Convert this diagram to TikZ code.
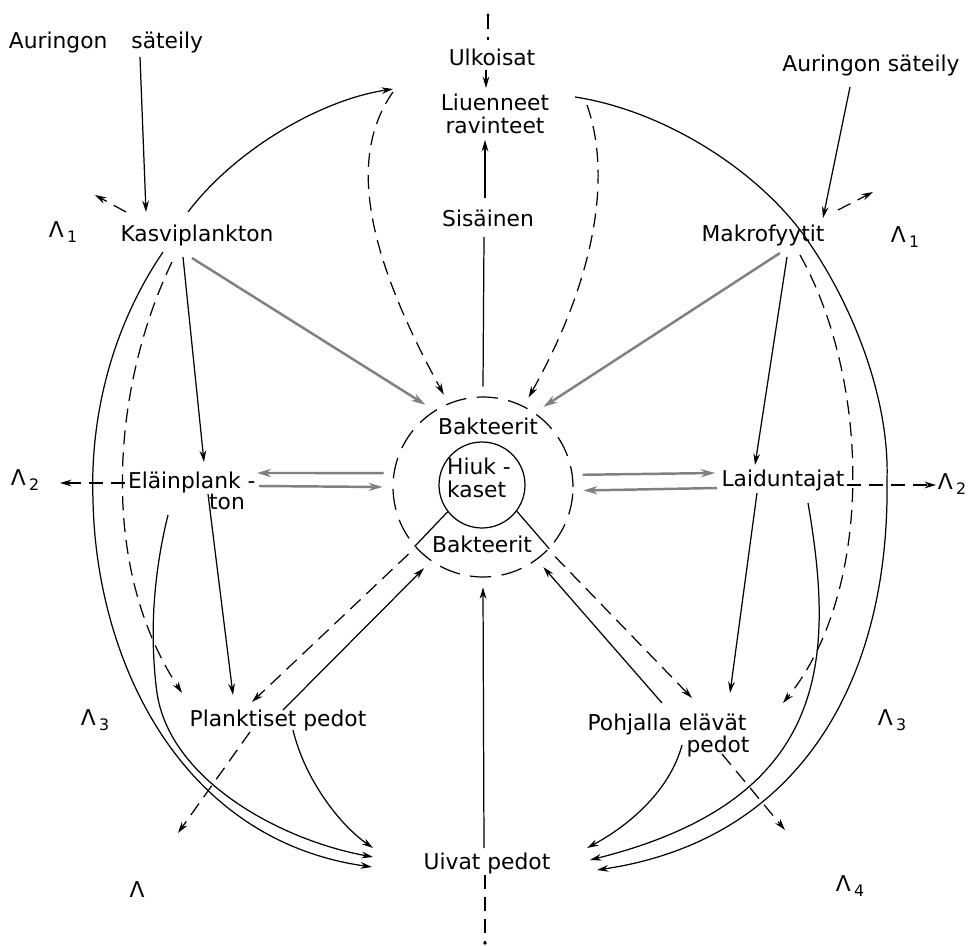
\documentclass[tikz,border=0pt]{standalone}
\usepackage{fontspec}
\setmainfont{DejaVu Sans}
\usetikzlibrary{arrows.meta,calc}
\newcommand\lam[1]{Λ\hspace{0.15em}\raisebox{-0.45ex}{\fontsize{9}{10}\selectfont #1}}
\begin{document}
\begin{tikzpicture}[x=0.02cm,y=-0.02cm,
 lbl/.style={font=\fontsize{12.4}{13}\selectfont, inner sep=0pt, outer sep=0pt},
 con/.style={line width=0.7pt},
 arr/.style={con,-{Stealth[length=6.5pt,width=3.8pt]}},
 dsh/.style={dash pattern=on 8pt off 4.5pt},
 ringdash/.style={dash pattern=on 12pt off 6pt},
 grarr/.style={line width=1.4pt,draw=black!50,-{Stealth[length=8pt,width=4.6pt]}}]
\useasboundingbox (0,0) rectangle (971,946);
% ---------- text nodes ----------
\node[lbl] (sunL) at (106,42) {Auringon\hspace{1.1em}säteily};
\node[lbl] (sunR) at (871,65) {Auringon säteily};
\node[lbl] (ulk) at (492,57) {Ulkoisat};
\node[lbl,align=center] (liu) at (495,114) {Liuenneet\\ravinteet};
\node[lbl] (sis) at (488,218) {Sisäinen};
\node[lbl] (kasvi) at (197,235) {Kasviplankton};
\node[lbl] (makro) at (763,235) {Makrofyytit};
\node[lbl,anchor=west] (elain) at (128,482) {Eläinplank -};
\node[lbl] (elain2) at (227,502) {ton};
\node[lbl] (laid) at (783,480) {Laiduntajat};
\node[lbl] (plank) at (278,720) {Planktiset pedot};
\node[lbl] (pohj) at (667,724) {Pohjalla elävät};
\node[lbl] (pohjb) at (718,746) {pedot};
\node[lbl] (uiv) at (487,863) {Uivat pedot};
\node[lbl] (L1l) at (63,232) {\lam{1}};
\node[lbl] (L1r) at (905,237) {\lam{1}};
\node[lbl] (L2l) at (25,480) {\lam{2}};
\node[lbl] (L2r) at (952,484) {\lam{2}};
\node[lbl] (L3l) at (95,720) {\lam{3}};
\node[lbl] (L3r) at (892,720) {\lam{3}};
\node[lbl] (L4l) at (137,890) {Λ};
\node[lbl] (L4r) at (850,886) {\lam{4}};
% ---------- central circles ----------
\node[circle,minimum size=4cm,inner sep=0pt] (ring) at (483,487) {};
\node[circle,draw,con,ringdash,minimum size=3.6cm,inner sep=0pt] (bak) at (483,487) {};
\node[circle,draw,con,minimum size=1.72cm,inner sep=0pt] (hk) at (482,485) {};
\node[lbl,align=left] (hiuk) at (479,478) {Hiuk -\\kaset};
\node[lbl] (bakT) at (488,426) {Bakteerit};
\node[lbl] (bakB) at (482,544) {Bakteerit};
\draw[con] (hk.218) -- (bak.221);
\draw[con] (hk.-37) -- (bak.-43);
% ---------- top ----------
\coordinate (topdot) at (488,15);
\draw[con,dsh] (topdot) -- ($(ulk)+(-4,-17)$);
\fill (topdot) circle[radius=1.6];
\draw[arr] ($(ulk)+(-6,13)$) -- ($(liu)+(-9,-26)$);
\draw[arr] ($(sis)+(-3,-20)$) -- ($(liu)+(-10,26)$);
\draw[con] (ring.90) -- ($(sis)+(-4,19)$);
\draw[arr,dsh] ($(liu)+(-102,-22)$) .. controls (345,160) and (370,260) .. (ring.113);
\draw[arr,dsh] ($(liu)+(92,-9)$) .. controls (610,170) and (600,270) .. (ring.63);
% ---------- Kasviplankton ----------
\draw[arr] ($(sunL)+(34,15)$) -- ($(kasvi)+(-51,-23)$);
\draw[arr,dsh] ($(kasvi)+(-71,-23)$) -- ($(kasvi)+(-102,-40)$);
\draw[arr] ($(kasvi)+(-9,-23)$) .. controls (235,150) and (320,100) .. ($(liu)+(-102,-25)$);
\draw[grarr] ($(kasvi)+(-5,23)$) -- (ring.125);
\draw[arr] ($(kasvi)+(-14,22)$) -- ($(elain.west)+(76,-20)$);
\draw[arr,dsh] ($(kasvi)+(-25,27)$) .. controls (115,380) and (95,560) .. ($(plank)+(-96,-27)$);
\draw[arr] ($(kasvi)+(-34,17)$) .. controls (110,330) and (90,420) .. (93,500)
  .. controls (96,660) and (180,840) .. ($(uiv)+(-115,4)$);
% ---------- Elainplankton ----------
\draw[arr,dsh] ($(elain.west)+(-3,1)$) -- ($(L2l)+(35,3)$);
\draw[arr] ($(elain.west)+(80,12)$) -- ($(plank)+(-45,-25)$);
\draw[arr] ($(elain.west)+(40,33)$) .. controls (152,580) and (150,640) .. (157,693)
  .. controls (170,780) and (280,840) .. ($(uiv)+(-114,-6)$);
\draw[grarr] (ring.172.6) -- ($(elain.west)+(129,-9)$);
\draw[grarr] ($(elain.west)+(131,4)$) -- (ring.180);
% ---------- Planktiset pedot ----------
\draw[arr,dsh] (ring.222) -- ($(plank)+(-26,-18)$);
\draw[arr] ($(plank)+(5,-10)$) -- (ring.234);
\draw[arr,dsh] ($(plank)+(-28,12)$) -- ($(plank)+(-100,113)$);
\draw[arr] ($(plank)+(15,10)$) .. controls (305,780) and (340,825) .. ($(uiv)+(-114,-15)$);
% ---------- Makrofyytit ----------
\draw[arr] ($(sunR)+(-21,22)$) -- ($(makro)+(60,-17)$);
\draw[arr,dsh] ($(makro)+(75,-25)$) -- ($(makro)+(110,-43)$);
\draw[arr] ($(liu)+(80,-17)$) .. controls (660,110) and (750,165) .. (800,230)
  .. controls (845,290) and (890,390) .. (887,480)
  .. controls (890,680) and (800,840) .. ($(uiv)+(110,7)$);
\draw[grarr] ($(makro)+(17,18)$) -- (ring.53);
\draw[arr] ($(makro)+(24,22)$) -- ($(laid)+(-28,-15)$);
\draw[arr,dsh] ($(makro)+(37,20)$) .. controls (870,380) and (875,590) .. ($(pohj)+(116,-21)$);
% ---------- Laiduntajat ----------
\draw[arr] ($(laid)+(-26,13)$) -- ($(pohj)+(63,-31)$);
\draw[arr] ($(laid)+(25,23)$) .. controls (835,660) and (830,800) .. ($(uiv)+(103,-3)$);
\draw[arr,dsh] ($(laid)+(64,5)$) -- ($(L2r)+(-16,1)$);
\draw[grarr] (ring.7) -- ($(laid)+(-68,-7)$);
\draw[grarr] ($(laid)+(-66,8)$) -- (ring.-2);
% ---------- Pohjalla elavat pedot ----------
\draw[arr,dsh] (ring.-44) -- ($(pohj)+(25,-26)$);
\draw[arr] ($(pohj)+(-5,-21)$) -- (ring.-53.5);
\draw[arr] ($(pohj)+(15,21)$) .. controls (670,790) and (630,825) .. ($(uiv)+(100,-15)$);
\draw[arr,dsh] ($(pohjb)+(4,8)$) -- ($(pohjb)+(67,84)$);
% ---------- Uivat pedot ----------
\draw[arr] ($(uiv)+(-3,-15)$) -- (ring.270);
\coordinate (botdot) at (485,943);
\draw[con,dsh] ($(uiv)+(-2,12)$) -- (botdot);
\fill (botdot) circle[radius=1.8];
\end{tikzpicture}
\end{document}
